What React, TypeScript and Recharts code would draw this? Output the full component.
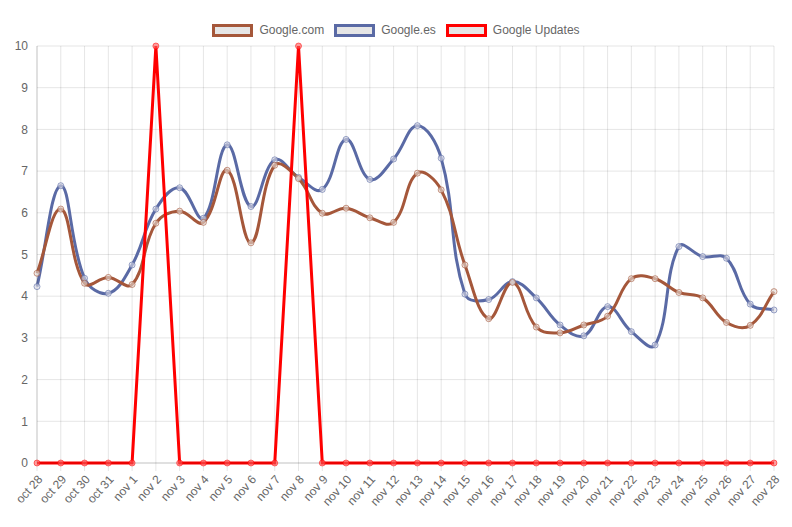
import { LineChart, Line, XAxis, YAxis, CartesianGrid, Legend } from "recharts";

const DAYS = [
  "oct 28", "oct 29", "oct 30", "oct 31",
  "nov 1", "nov 2", "nov 3", "nov 4", "nov 5", "nov 6", "nov 7", "nov 8", "nov 9", "nov 10",
  "nov 11", "nov 12", "nov 13", "nov 14", "nov 15", "nov 16", "nov 17", "nov 18", "nov 19", "nov 20",
  "nov 21", "nov 22", "nov 23", "nov 24", "nov 25", "nov 26", "nov 27", "nov 28",
];

const GOOGLE_COM = [
  4.55, 6.09, 4.31, 4.45, 4.28, 5.75, 6.04, 5.77, 7.02, 5.28, 7.14, 6.82, 5.99, 6.11, 5.88, 5.77,
  6.95, 6.55, 4.75, 3.46, 4.33, 3.26, 3.12, 3.31, 3.52, 4.42, 4.42, 4.09, 3.96, 3.37, 3.3, 4.11,
];

const GOOGLE_ES = [
  4.23, 6.65, 4.43, 4.07, 4.75, 6.09, 6.6, 5.87, 7.63, 6.15, 7.27, 6.85, 6.56, 7.76, 6.8, 7.29,
  8.09, 7.31, 4.05, 3.92, 4.35, 3.96, 3.31, 3.05, 3.75, 3.15, 2.83, 5.19, 4.95, 4.91, 3.81, 3.67,
];

const UPDATES = [
  0, 0, 0, 0, 0, 10, 0, 0, 0, 0, 0, 10, 0, 0, 0, 0,
  0, 0, 0, 0, 0, 0, 0, 0, 0, 0, 0, 0, 0, 0, 0, 0,
];

const Y_TICKS = [0, 1, 2, 3, 4, 5, 6, 7, 8, 9, 10];

const SERIES = [
  { key: "com", name: "Google.com", color: "#a5573a" },
  { key: "es", name: "Google.es", color: "#5a6aa5" },
  { key: "upd", name: "Google Updates", color: "#ff0000" },
];

const data = DAYS.map((day, i) => ({
  day,
  com: GOOGLE_COM[i],
  es: GOOGLE_ES[i],
  upd: UPDATES[i],
}));

// chart.js style bezier spline (tension 0.4)
function splineCurve(tension: number) {
  return (context: any) => {
    let pts: [number, number][] = [];
    return {
      areaStart() {},
      areaEnd() {},
      lineStart() {
        pts = [];
      },
      lineEnd() {
        const n = pts.length;
        if (!n) return;
        const cps = pts.map((cur, i) => {
          const prev = pts[i - 1] || cur;
          const next = pts[i + 1] || cur;
          const d01 = Math.hypot(cur[0] - prev[0], cur[1] - prev[1]);
          const d12 = Math.hypot(next[0] - cur[0], next[1] - cur[1]);
          let s01 = d01 / (d01 + d12);
          let s12 = d12 / (d01 + d12);
          if (isNaN(s01)) s01 = 0;
          if (isNaN(s12)) s12 = 0;
          const fa = tension * s01;
          const fb = tension * s12;
          return {
            p: [cur[0] - fa * (next[0] - prev[0]), cur[1] - fa * (next[1] - prev[1])],
            n: [cur[0] + fb * (next[0] - prev[0]), cur[1] + fb * (next[1] - prev[1])],
          };
        });
        context.moveTo(pts[0][0], pts[0][1]);
        for (let i = 1; i < n; i++) {
          const a = cps[i - 1].n;
          const b = cps[i].p;
          context.bezierCurveTo(a[0], a[1], b[0], b[1], pts[i][0], pts[i][1]);
        }
      },
      point(x: number, y: number) {
        pts.push([+x, +y]);
      },
    };
  };
}

const spline = splineCurve(0.4);

function XTick(props: any) {
  const { x, y, payload } = props;
  return (
    <text
      x={0}
      y={0}
      transform={`translate(${x + 3},${y + 4}) rotate(-48)`}
      textAnchor="end"
      dy="0.35em"
      fontSize={12}
      fill="#666"
    >
      {payload.value}
    </text>
  );
}

function renderLegend() {
  return (
    <div style={{ display: "flex", justifyContent: "center", gap: 10, height: 24, fontSize: 12, color: "#666" }}>
      {SERIES.map((s) => (
        <div key={s.key} style={{ display: "flex", alignItems: "center", height: 16 }}>
          <span
            style={{
              display: "inline-block",
              width: 35,
              height: 7,
              border: `3px solid ${s.color}`,
              background: "#e6e6e6",
              marginRight: 6,
            }}
          />
          <span>{s.name}</span>
        </div>
      ))}
    </div>
  );
}

export default function App() {
  return (
    <div style={{ position: "absolute", left: 0, top: 0, fontFamily: "'Liberation Sans', Arial, sans-serif" }}>
      <LineChart width={792} height={527} data={data} margin={{ top: 22, right: 18, left: 0, bottom: 0 }}>
        <Legend
          verticalAlign="top"
          height={24}
          content={renderLegend}
          wrapperStyle={{ left: 0, width: 792 }}
        />
        <CartesianGrid stroke="rgba(0,0,0,0.1)" />
        <XAxis
          dataKey="day"
          interval={0}
          height={64}
          tick={<XTick />}
          tickSize={8}
          tickLine={{ stroke: "rgba(0,0,0,0.1)" }}
          axisLine={{ stroke: "rgba(0,0,0,0.15)" }}
        />
        <YAxis
          width={37}
          domain={[0, 10]}
          ticks={Y_TICKS}
          interval={0}
          tickLine={false}
          tickMargin={3}
          axisLine={{ stroke: "rgba(0,0,0,0.15)" }}
          tick={{ fontSize: 12, fill: "#666" }}
        />
        <Line
          dataKey="es"
          name="Google.es"
          type={spline as any}
          stroke="#5a6aa5"
          strokeWidth={3}
          dot={{ r: 3, fill: "rgba(220,220,230,0.6)", stroke: "rgba(90,106,165,0.6)", strokeWidth: 1 }}
          activeDot={false}
          isAnimationActive={false}
        />
        <Line
          dataKey="com"
          name="Google.com"
          type={spline as any}
          stroke="#a5573a"
          strokeWidth={3}
          dot={{ r: 3, fill: "rgba(230,220,215,0.6)", stroke: "rgba(165,87,58,0.6)", strokeWidth: 1 }}
          activeDot={false}
          isAnimationActive={false}
        />
        <Line
          dataKey="upd"
          name="Google Updates"
          type="linear"
          stroke="#ff0000"
          strokeWidth={3}
          dot={{ r: 3, fill: "rgba(255,90,90,0.6)", stroke: "rgba(255,0,0,0.5)", strokeWidth: 1 }}
          activeDot={false}
          isAnimationActive={false}
        />
      </LineChart>
    </div>
  );
}
